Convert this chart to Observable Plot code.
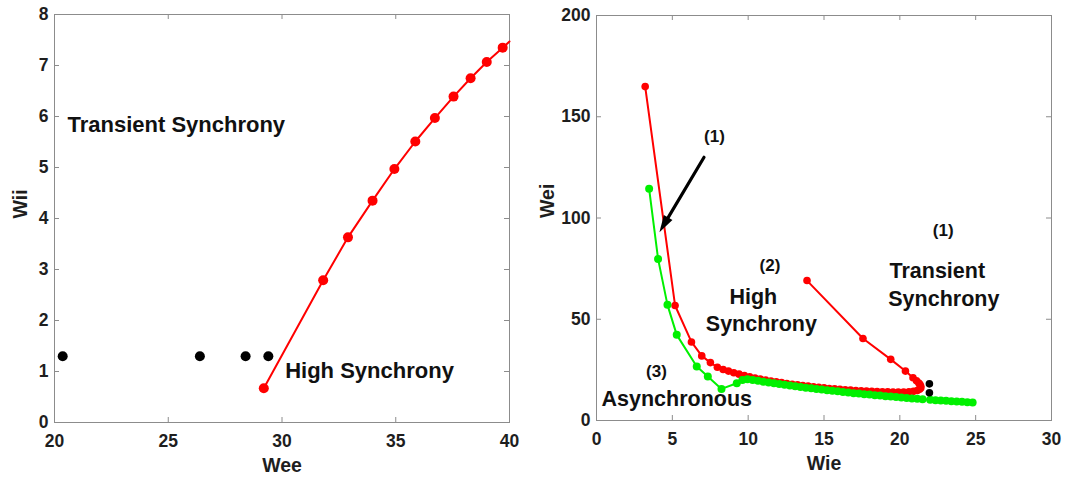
<!DOCTYPE html>
<html><head><meta charset="utf-8">
<script src="https://cdn.jsdelivr.net/npm/d3@7"></script>
<script src="https://cdn.jsdelivr.net/npm/@observablehq/plot@0.6"></script>
<style>
body{margin:0;background:#fff;}
#wrap{position:relative;width:1075px;height:477px;overflow:hidden;background:#fff;}
#left{position:absolute;left:0;top:0;}
#right{position:absolute;left:530px;top:0;}
</style></head><body><div id="wrap"><div id="left"></div><div id="right"></div></div>
<script>
// ---------- Left panel data (Wee vs Wii) ----------
const weeTicks = [20, 25, 30, 35, 40];
const wiiTicks = [0, 1, 2, 3, 4, 5, 6, 7, 8];
const weeBlack = [20.36, 26.39, 28.40, 29.40];
const wiiBlack = [1.3, 1.3, 1.3, 1.3];
const weeRed = [29.20, 31.81, 32.90, 33.98, 34.94, 35.86, 36.72, 37.54, 38.29, 39.00, 39.70];
const wiiRed = [0.67, 2.79, 3.63, 4.35, 4.97, 5.51, 5.97, 6.39, 6.75, 7.07, 7.35];
const weeRedTail = [40.0];
const wiiRedTail = [7.47];
const leftLabelText = ["Transient Synchrony", "High Synchrony"];
const leftLabelX = [20.57, 30.14];
const leftLabelY = [5.84, 1.01];

// ---------- Right panel data (Wie vs Wei) ----------
const wieTicks = [0, 5, 10, 15, 20, 25, 30];
const weiTicks = [0, 50, 100, 150, 200];
const wieRed = [3.21, 5.18, 6.26, 6.94, 7.51, 7.97, 8.35, 8.7, 9.05, 9.4, 9.75, 10.1, 10.45, 10.8, 11.15, 11.5, 11.85, 12.2, 12.55, 12.9, 13.25, 13.6, 13.95, 14.3, 14.65, 15.0, 15.35, 15.7, 16.05, 16.4, 16.75, 17.1, 17.45, 17.8, 18.15, 18.5, 18.85, 19.2, 19.55, 19.9, 20.25, 20.6, 20.9, 21.15, 21.3, 21.38, 21.38, 21.33, 21.25, 21.1, 20.87, 20.37, 19.4, 17.57, 13.88];
const weiRed = [164.9, 56.8, 38.8, 31.9, 28.6, 26.3, 25.2, 24.4, 23.6, 22.9, 22.2, 21.6, 21.0, 20.5, 20.0, 19.5, 19.1, 18.7, 18.3, 17.9, 17.6, 17.3, 17.0, 16.7, 16.4, 16.1, 15.8, 15.6, 15.4, 15.2, 15.0, 14.8, 14.7, 14.5, 14.4, 14.3, 14.2, 14.2, 14.1, 14.1, 14.1, 14.2, 14.4, 14.8, 15.4, 16.1, 16.9, 17.7, 18.5, 19.6, 21.1, 24.4, 30.2, 40.5, 69.1];
const wieGreen = [3.47, 4.06, 4.68, 5.29, 6.61, 7.34, 8.24, 9.25, 9.62, 9.95, 10.3, 10.65, 11.0, 11.35, 11.7, 12.05, 12.4, 12.75, 13.1, 13.45, 13.8, 14.15, 14.5, 14.85, 15.2, 15.55, 15.9, 16.25, 16.6, 16.95, 17.3, 17.65, 18.0, 18.35, 18.7, 19.05, 19.4, 19.75, 20.1, 20.45, 20.8, 21.15, 21.5, 22.0, 22.35, 22.7, 23.05, 23.4, 23.75, 24.1, 24.45, 24.8];
const weiGreen = [114.4, 79.8, 57.1, 42.3, 26.7, 21.7, 15.6, 18.4, 20.0, 20.4, 20.0, 19.6, 19.1, 18.8, 18.4, 18.0, 17.6, 17.3, 16.9, 16.6, 16.2, 15.9, 15.6, 15.3, 15.0, 14.7, 14.4, 14.1, 13.8, 13.5, 13.3, 13.0, 12.8, 12.5, 12.3, 12.0, 11.8, 11.6, 11.3, 11.1, 10.9, 10.7, 10.5, 10.2, 10.0, 9.9, 9.7, 9.5, 9.4, 9.2, 9.0, 8.9];
const wieBlack = [21.95, 21.95];
const weiBlack = [18.1, 13.7];
const arrowFrom = [7.09, 130.0];
const arrowTo = [4.15, 93.0];
const rightSmallText = ["(1)", "(1)", "(2)", "(3)"];
const rightSmallX = [7.78, 22.86, 11.44, 3.95];
const rightSmallY = [140.0, 93.8, 76.5, 24.4];
const rightBigText = ["High", "Synchrony", "Transient", "Synchrony", "Asynchronous"];
const rightBigX = [10.34, 10.87, 22.47, 22.9, 5.29];
const rightBigY = [60.9, 47.4, 73.7, 59.8, 10.7];

// ---------- helpers ----------
const FONT = "'Liberation Sans', Arial, Helvetica, sans-serif";
const RED = "#ff0000", GREEN = "#00f000", INK = "#111111", FRAME = "#8c8c8c";
const pts = (xs, ys) => xs.map((x, i) => ({x, y: ys[i]}));
const labels = (t, xs, ys) => t.map((s, i) => ({s, x: xs[i], y: ys[i]}));
function boxTicks(xt, yt, iw, ih) {
  return [
    Plot.tickX(xt, {x: d => d, insetTop: ih - 5, stroke: FRAME}),
    Plot.tickX(xt, {x: d => d, insetBottom: ih - 5, stroke: FRAME}),
    Plot.tickY(yt, {y: d => d, insetRight: iw - 5, stroke: FRAME}),
    Plot.tickY(yt, {y: d => d, insetLeft: iw - 5, stroke: FRAME})
  ];
}
function axisTitles(xl, yl, yDx) {
  return [
    Plot.text([xl], {frameAnchor: "bottom", dy: 43, lineAnchor: "middle", text: d => d, fontSize: 19.5, fontWeight: "bold", fill: "#1e1e1e"}),
    Plot.text([yl], {frameAnchor: "left", dx: yDx, rotate: -90, text: d => d, fontSize: 19.5, fontWeight: "bold", fill: "#1e1e1e"})
  ];
}
// narrow filled arrow head, tip at the origin, pointing up before rotation
const arrowHead = {draw(ctx) { ctx.moveTo(0, 0); ctx.lineTo(-5, 17); ctx.lineTo(5, 17); ctx.closePath(); }};
const baseStyle = {fontFamily: FONT, fontWeight: "bold", fontSize: "17.5px", color: "#1e1e1e", background: "white", overflow: "visible"};

// ---------- Left chart ----------
{
  const W = 530, H = 477, mL = 54, mR = 21, mT = 14, mB = 55;
  const redPts = pts(weeRed, wiiRed);
  const chart = Plot.plot({
    width: W, height: H, marginLeft: mL, marginRight: mR, marginTop: mT, marginBottom: mB,
    style: baseStyle,
    x: {domain: [20, 40]},
    y: {domain: [0, 8]},
    marks: [
      Plot.frame({stroke: FRAME}),
      ...boxTicks(weeTicks, wiiTicks, W - mL - mR, H - mT - mB),
      Plot.axisX({ticks: weeTicks, tickSize: 0, tickPadding: 12, label: null}),
      Plot.axisY({ticks: wiiTicks, tickSize: 0, tickPadding: 6, label: null}),
      ...axisTitles("Wee", "Wii", -34),
      Plot.line(redPts.concat(pts(weeRedTail, wiiRedTail)), {x: "x", y: "y", stroke: RED, strokeWidth: 2}),
      Plot.dot(redPts, {x: "x", y: "y", r: 5, fill: RED}),
      Plot.dot(pts(weeBlack, wiiBlack), {x: "x", y: "y", r: 5, fill: "black"}),
      Plot.text(labels(leftLabelText, leftLabelX, leftLabelY), {x: "x", y: "y", text: "s", textAnchor: "start", fontSize: 22, fontWeight: "bold", fill: INK})
    ]
  });
  document.getElementById("left").append(chart);
}

// ---------- Right chart ----------
{
  const W = 545, H = 477, mL = 66, mR = 24, mT = 15, mB = 57;
  const xs = d3.scaleLinear([0, 30], [mL, W - mR]);
  const ys = d3.scaleLinear([0, 200], [H - mB, mT]);
  const dxp = xs(arrowTo[0]) - xs(arrowFrom[0]), dyp = ys(arrowTo[1]) - ys(arrowFrom[1]);
  const headRot = Math.atan2(dxp, -dyp) * 180 / Math.PI;
  const arrowRow = [{x1: arrowFrom[0], y1: arrowFrom[1], x2: arrowTo[0], y2: arrowTo[1]}];
  const chart = Plot.plot({
    width: W, height: H, marginLeft: mL, marginRight: mR, marginTop: mT, marginBottom: mB,
    style: baseStyle,
    x: {domain: [0, 30]},
    y: {domain: [0, 200]},
    marks: [
      Plot.frame({stroke: FRAME}),
      ...boxTicks(wieTicks, weiTicks, W - mL - mR, H - mT - mB),
      Plot.axisX({ticks: wieTicks, tickSize: 0, tickPadding: 12, label: null}),
      Plot.axisY({ticks: weiTicks, tickSize: 0, tickPadding: 6, label: null}),
      ...axisTitles("Wie", "Wei", -49),
      Plot.line(pts(wieRed, weiRed), {x: "x", y: "y", stroke: RED, strokeWidth: 2}),
      Plot.dot(pts(wieRed, weiRed), {x: "x", y: "y", r: 3.8, fill: RED}),
      Plot.line(pts(wieGreen, weiGreen), {x: "x", y: "y", stroke: GREEN, strokeWidth: 2}),
      Plot.dot(pts(wieGreen, weiGreen), {x: "x", y: "y", r: 4, fill: GREEN}),
      Plot.dot(pts(wieBlack, weiBlack), {x: "x", y: "y", r: 3.8, fill: "black"}),
      Plot.arrow(arrowRow, {x1: "x1", y1: "y1", x2: "x2", y2: "y2", stroke: "black", strokeWidth: 3.2, headLength: 0, insetEnd: 12}),
      Plot.dot(arrowRow, {x: "x2", y: "y2", symbol: arrowHead, rotate: headRot, fill: "black", stroke: "none"}),
      Plot.text(labels(rightSmallText, rightSmallX, rightSmallY), {x: "x", y: "y", text: "s", fontSize: 17, fontWeight: "bold", fill: INK}),
      Plot.text(labels(rightBigText, rightBigX, rightBigY), {x: "x", y: "y", text: "s", fontSize: 21.5, fontWeight: "bold", fill: INK})
    ]
  });
  document.getElementById("right").append(chart);
}
</script></body></html>
